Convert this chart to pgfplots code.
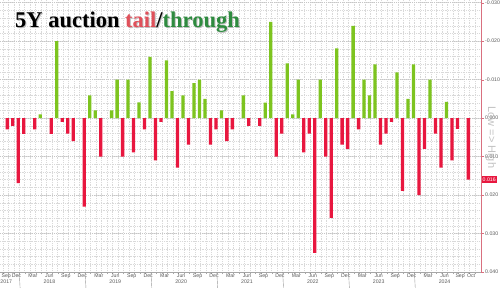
\documentclass[border=0pt]{standalone}
\usepackage{fontspec}
\setmainfont{Liberation Sans}
\newfontfamily\titlefont{Liberation Serif}
\usepackage{pgfplots}
\pgfplotsset{compat=1.18}
\definecolor{barred}{HTML}{E8173F}
\definecolor{bargreen}{HTML}{7DC41F}
\definecolor{tailred}{HTML}{E0505A}
\definecolor{thrugreen}{HTML}{2E8B3F}
\definecolor{axred}{HTML}{D9707F}
\definecolor{labgray}{HTML}{5A5A5A}
\begin{document}
\begin{tikzpicture}
\begin{axis}[
  scale only axis,
  width=481pt, height=272pt,
  xmin=-1.34, xmax=86.3, ymin=-0.0307, ymax=0.040, y dir=reverse,
  axis x line=bottom, axis y line=right, axis line style={-},
  x axis line style={draw=gray!70},
  y axis line style={draw=axred},
  clip=false,
  tick align=outside,
  major tick length=3pt, minor tick length=2pt,
  xtick={-0.2,1.66,4.66,7.66,10.66,13.66,16.66,19.66,22.66,25.66,28.66,31.66,34.66,37.66,40.66,43.66,46.66,49.66,52.66,55.66,58.66,61.66,64.66,67.66,70.66,73.66,76.66,79.66,82.5,84.5},
  xticklabels={{Sep\\2017},Dec,Mar,{Jun\\2018},Sep,Dec,Mar,{Jun\\2019},Sep,Dec,Mar,{Jun\\2020},Sep,Dec,Mar,{Jun\\2021},Sep,Dec,Mar,{Jun\\2022},Sep,Dec,Mar,{Jun\\2023},Sep,Dec,Mar,{Jun\\2024},Sep,Oct},
  xticklabel style={align=center, font=\fontsize{5.2}{6}\selectfont, text=labgray, inner sep=0.5pt, yshift=2pt},
  major x tick style={draw=none},
  minor xtick={-0.84,0.16,...,85.2},
  minor x tick style={draw=gray!70},
  xminorgrids=true, xmajorgrids=false,
  scaled y ticks=false,
  ytick={-0.03,-0.02,-0.01,0,0.01,0.02,0.03,0.04},
  minor ytick={-0.03,-0.028,...,0.04},
  ymajorgrids=true, yminorgrids=true,
  major grid style={draw=gray!45, dash pattern=on 1pt off 1pt},
  minor grid style={draw=gray!30, dash pattern=on 0.6pt off 1.2pt},
  minor y tick style={draw=none},
  major y tick style={draw=axred},
  yticklabel style={font=\fontsize{5.2}{6}\selectfont, text=labgray, inner sep=1pt},
  /pgf/number format/.cd, fixed, fixed zerofill, precision=3, assume math mode=true,
]
\addplot[ybar, bar width=3.3pt, bar shift=0pt, fill=barred, draw=none] coordinates {
(0,0.0029) (1,0.002) (2,0.0169) (3,0.0041) (5,0.0029) (8,0.0041) (10,0.001) (11,0.004) (12,0.006) (14,0.023) (17,0.010) (21,0.010) (23,0.0089) (25,0.0029) (27,0.011) (28,0.001) (31,0.0129) (33,0.0069) (37,0.0069) (38,0.0029) (40,0.006) (41,0.0029) (44,0.002) (46,0.002) (49,0.010) (50,0.004) (54,0.0089) (55,0.004) (56,0.035) (58,0.010) (59,0.0259) (61,0.0069) (62,0.008) (64,0.0029) (68,0.0069) (69,0.004) (70,0.001) (72,0.0189) (75,0.020) (76,0.008) (78,0.004) (79,0.0129) (81,0.011) (82,0.0028) (84,0.016)
};
\addplot[ybar, bar width=3.3pt, bar shift=0pt, fill=bargreen, draw=none] coordinates {
(6,-0.001) (9,-0.020) (15,-0.0059) (16,-0.002) (19,-0.002) (20,-0.010) (22,-0.010) (24,-0.0041) (26,-0.0159) (29,-0.015) (30,-0.007) (32,-0.0059) (34,-0.0091) (35,-0.010) (36,-0.005) (39,-0.002) (43,-0.0059) (47,-0.004) (48,-0.025) (51,-0.0142) (52,-0.001) (53,-0.010) (57,-0.010) (60,-0.0181) (63,-0.024) (65,-0.010) (66,-0.0059) (67,-0.014) (71,-0.0119) (73,-0.005) (74,-0.014) (77,-0.010) (80,-0.0042)
};
\foreach \yb in {2.16,14.16,26.16,38.16,50.16,62.16,74.16} {
  \edef\tmp{\noexpand\draw[gray!80, line width=0.4pt] (axis cs:\yb,0.040) -- ++(0,-15pt);}\tmp
}
\coordinate (TL) at (axis cs:-1.34,-0.0307);
\node[fill=barred, text=white, anchor=west, inner sep=1pt, minimum height=7pt, font=\fontsize{5.2}{6}\selectfont] at ([xshift=0.5pt]axis cs:86.3,0.016) {0.016};
\node[rotate=-90, text=gray!60, opacity=0.8, font=\fontsize{11}{11}\selectfont] at ([xshift=10pt]axis cs:86.3,0.005) {Low => High};
\end{axis}
\pgfresetboundingbox
\path[use as bounding box] (TL) rectangle ([shift={(500pt,-287pt)}]TL);
\node[anchor=base west, text=black!25, font=\titlefont\bfseries\fontsize{22.5}{22.5}\selectfont, inner sep=0pt] at ([shift={(16pt,-28.7pt)}]TL) {5Y auction tail/through};
\node[anchor=base west, font=\titlefont\bfseries\fontsize{22.5}{22.5}\selectfont, inner sep=0pt] at ([shift={(15pt,-27.5pt)}]TL) {5Y auction \textcolor{tailred}{tail}/\textcolor{thrugreen}{through}};
\end{tikzpicture}
\end{document}
